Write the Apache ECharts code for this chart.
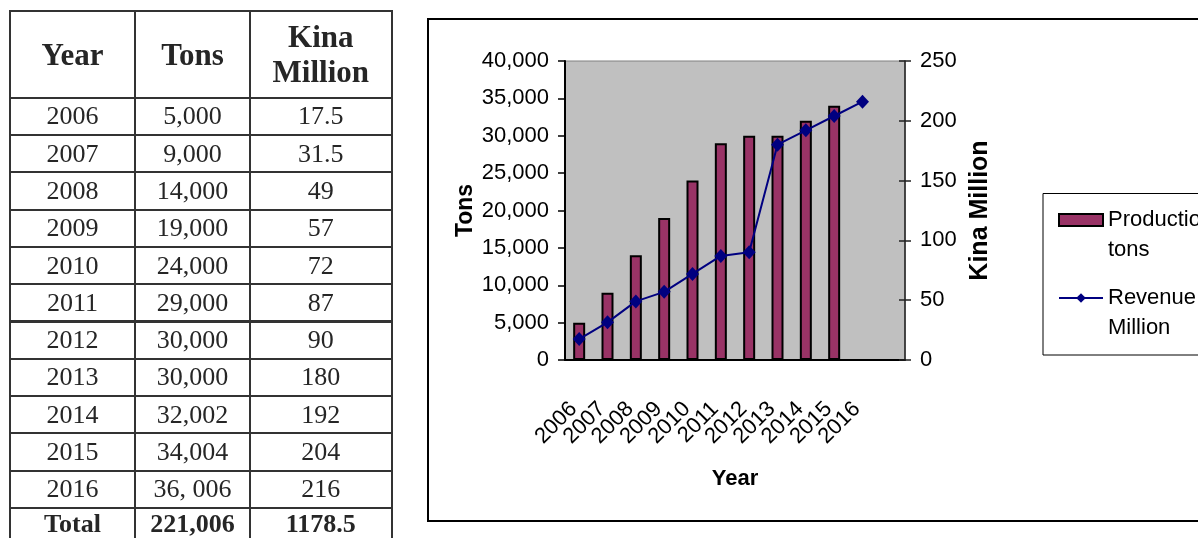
<!DOCTYPE html>
<html>
<head>
<meta charset="utf-8">
<script src="https://cdn.jsdelivr.net/npm/echarts@6/dist/echarts.min.js"></script>
<style>
  html, body { margin: 0; padding: 0; background: #fff; }
  #chart { position: absolute; left: 0; top: 0; width: 1198px; height: 538px; }
  #table { position: absolute; left: 0; top: 0; width: 400px; height: 538px; overflow: hidden; }
  .cell {
    position: absolute; box-sizing: border-box; border: 2px solid #333;
    display: flex; align-items: center; justify-content: center; text-align: center;
    font-family: "Liberation Serif", "Times New Roman", serif; color: #262626;
    font-size: 26px; line-height: 1;
  }
  .head { font-weight: bold; font-size: 31px; line-height: 35px; }
  .total { font-weight: bold; font-size: 26px; align-items: flex-start; padding-top: 2px; }
</style>
</head>
<body>
<div id="chart"></div>
<div id="table"></div>
<script>
// ---- data ----
const years = ['2006', '2007', '2008', '2009', '2010', '2011', '2012', '2013', '2014', '2015', '2016'];
// category axis has one extra, unlabeled slot at the end
const chartYears = ['2006', '2007', '2008', '2009', '2010', '2011', '2012', '2013', '2014', '2015', '2016', ''];
const productionTons = [5000, 9000, 14000, 19000, 24000, 29000, 30000, 30000, 32002, 34004];
const revenueKina = [17.5, 31.5, 49, 57, 72, 87, 90, 180, 192, 204, 216];

// table text
const tableHeaders = ['Year', 'Tons', 'Kina<br>Million'];
const tableTons = ['5,000', '9,000', '14,000', '19,000', '24,000', '29,000', '30,000', '30,000', '32,002', '34,004', '36, 006'];
const tableKina = ['17.5', '31.5', '49', '57', '72', '87', '90', '180', '192', '204', '216'];
const tableTotal = ['Total', '221,006', '1178.5'];

// ---- table ----
const colEdges = [10, 135, 250, 391.7];
const rowEdges = [11, 97.7];
for (let i = 0; i < years.length + 1; i++) rowEdges.push(+(rowEdges[rowEdges.length - 1] + 37.3).toFixed(1));

const tableEl = document.getElementById('table');
function addCell(r, c, html, cls) {
  const d = document.createElement('div');
  d.className = 'cell' + (cls ? ' ' + cls : '');
  d.style.left = (colEdges[c] - 1) + 'px';
  d.style.top = (rowEdges[r] - 1) + 'px';
  d.style.width = (colEdges[c + 1] - colEdges[c] + 2) + 'px';
  d.style.height = (rowEdges[r + 1] - rowEdges[r] + 2) + 'px';
  d.innerHTML = html;
  tableEl.appendChild(d);
}
tableHeaders.forEach((h, c) => addCell(0, c, h, 'head'));
years.forEach((y, i) => {
  addCell(i + 1, 0, y);
  addCell(i + 1, 1, tableTons[i]);
  addCell(i + 1, 2, tableKina[i]);
});
tableTotal.forEach((t, c) => addCell(years.length + 1, c, t, 'total'));

// ---- chart ----
const FONT = '"Liberation Sans", Arial, sans-serif';
const chart = echarts.init(document.getElementById('chart'));
const labelStyle = { fontFamily: FONT, fontSize: 22, color: '#000' };

// legend labels wrap onto two lines; a blank leading line keeps the
// first text line level with the legend symbol
const legendText = {
  'Production tons': ' \nProduction\ntons',
  'Revenue Kina Million': ' \nRevenue Kina\nMillion'
};

chart.setOption({
  animation: false,
  backgroundColor: '#fff',
  textStyle: { fontFamily: FONT },
  graphic: [
    { type: 'rect', z: 0, shape: { x: 428, y: 19, width: 820, height: 502 },
      style: { fill: 'none', stroke: '#000', lineWidth: 2 } },
    { type: 'rect', z: 0, shape: { x: 1043, y: 193.5, width: 200, height: 161.5 },
      style: { fill: '#fff', stroke: '#000', lineWidth: 1 } }
  ],
  grid: {
    left: 565, top: 61, width: 340, height: 299,
    show: true, backgroundColor: '#c0c0c0', borderColor: '#808080', borderWidth: 1
  },
  legend: {
    orient: 'vertical', left: 1053, top: 170, itemWidth: 44, itemHeight: 12, itemGap: -12,
    data: [
      { name: 'Production tons', icon: 'rect' },
      { name: 'Revenue Kina Million' }
    ],
    formatter: n => legendText[n],
    textStyle: { fontFamily: FONT, fontSize: 22, color: '#000', lineHeight: 30 }
  },
  xAxis: [
    {
      type: 'category', data: chartYears, position: 'bottom',
      axisLine: { lineStyle: { color: '#000', width: 2 } },
      axisTick: { interval: 0, length: 10, lineStyle: { color: '#000', width: 1.5 } },
      axisLabel: Object.assign({ interval: 0, rotate: 45, margin: 40, padding: [0, 8, 0, 0] }, labelStyle),
      name: 'Year', nameLocation: 'middle', nameGap: 108,
      nameTextStyle: { fontFamily: FONT, fontWeight: 'bold', fontSize: 22, color: '#000' }
    },
    {
      type: 'category', data: chartYears, position: 'bottom',
      axisLine: { show: false },
      axisTick: { inside: true, interval: 0, length: 5, lineStyle: { color: '#000', width: 1.5 } },
      axisLabel: { show: false }
    }
  ],
  yAxis: [
    {
      type: 'value', min: 0, max: 40000, interval: 5000, position: 'left',
      axisLine: { show: true, lineStyle: { color: '#000', width: 2 } },
      axisTick: { show: true, length: 7, lineStyle: { color: '#000', width: 1.5 } },
      splitLine: { show: false },
      axisLabel: Object.assign({ margin: 16, formatter: v => v.toLocaleString('en-US') }, labelStyle),
      name: 'Tons', nameLocation: 'middle', nameRotate: 90, nameGap: 88,
      nameTextStyle: { fontFamily: FONT, fontWeight: 'bold', fontSize: 23, color: '#000' }
    },
    {
      type: 'value', min: 0, max: 250, interval: 50, position: 'right',
      axisLine: { show: true, lineStyle: { color: '#222', width: 1.5 } },
      axisTick: { show: true, length: 6, lineStyle: { color: '#222', width: 1.5 } },
      splitLine: { show: false },
      axisLabel: Object.assign({ margin: 15 }, labelStyle),
      name: 'Kina Million', nameLocation: 'middle', nameRotate: 90, nameGap: 63,
      nameTextStyle: { fontFamily: FONT, fontWeight: 'bold', fontSize: 25, color: '#000' }
    },
    {
      type: 'value', min: 0, max: 250, interval: 50, position: 'right',
      axisLine: { show: false },
      axisTick: { show: true, inside: true, length: 6, lineStyle: { color: '#222', width: 1.5 } },
      splitLine: { show: false }, axisLabel: { show: false }
    }
  ],
  series: [
    {
      name: 'Production tons', type: 'bar', data: productionTons, barWidth: 12,
      itemStyle: { color: '#993366', borderColor: '#000', borderWidth: 2 }
    },
    {
      name: 'Revenue Kina Million', type: 'line', yAxisIndex: 1, data: revenueKina,
      symbol: 'diamond', symbolSize: [13, 14],
      lineStyle: { color: '#000080', width: 2 },
      itemStyle: { color: '#000080' }
    }
  ]
});
</script>
</body>
</html>
